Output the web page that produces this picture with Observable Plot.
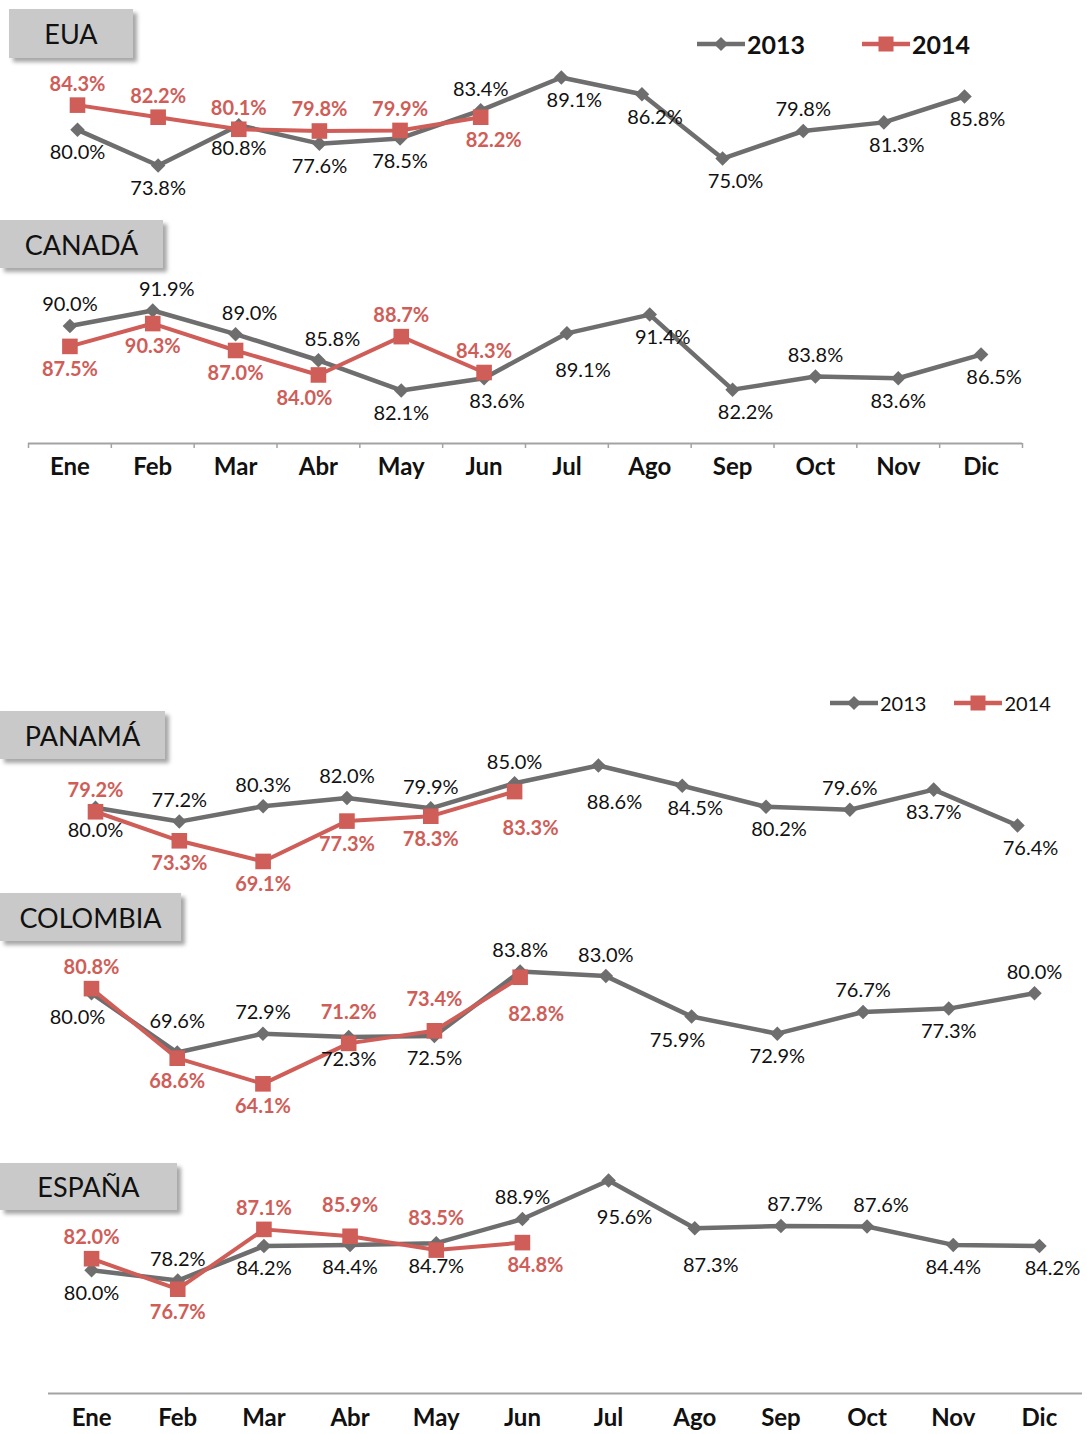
<!DOCTYPE html>
<html>
<head>
<meta charset="utf-8">
<script src="https://cdn.jsdelivr.net/npm/d3@7"></script>
<script src="https://cdn.jsdelivr.net/npm/@observablehq/plot@0.6"></script>
<style>
  html, body { margin: 0; padding: 0; background: #ffffff; }
  #root { position: relative; width: 1087px; height: 1434px; overflow: hidden; font-family: Lato, "Open Sans", sans-serif; }
  .panel { position: absolute; left: 0; }
  .panel svg { overflow: visible; }
  .tag { position: absolute; background: #c9c9c9; box-shadow: 4px 4px 4px rgba(0,0,0,0.35);
         display: flex; align-items: center; justify-content: center; font-size: 27px; color: #111; z-index: 5; }
  .legend { position: absolute; display: flex; align-items: center; color: #111; z-index: 5; }
  .legend .item { display: flex; align-items: center; }
  .legend svg { display: block; }
</style>
</head>
<body>
<div id="root"></div>
<script>
// ---------- data ----------
const months = ["Ene","Feb","Mar","Abr","May","Jun","Jul","Ago","Sep","Oct","Nov","Dic"];
const seriesNames = ["2013", "2014"];

const eua2013 = [80.0, 73.8, 80.8, 77.6, 78.5, 83.4, 89.1, 86.2, 75.0, 79.8, 81.3, 85.8];
const eua2014 = [84.3, 82.2, 80.1, 79.8, 79.9, 82.2];

const canada2013 = [90.0, 91.9, 89.0, 85.8, 82.1, 83.6, 89.1, 91.4, 82.2, 83.8, 83.6, 86.5];
const canada2014 = [87.5, 90.3, 87.0, 84.0, 88.7, 84.3];

const panama2013 = [80.0, 77.2, 80.3, 82.0, 79.9, 85.0, 88.6, 84.5, 80.2, 79.6, 83.7, 76.4];
const panama2014 = [79.2, 73.3, 69.1, 77.3, 78.3, 83.3];

const colombia2013 = [80.0, 69.6, 72.9, 72.3, 72.5, 83.8, 83.0, 75.9, 72.9, 76.7, 77.3, 80.0];
const colombia2014 = [80.8, 68.6, 64.1, 71.2, 73.4, 82.8];

const espana2013 = [80.0, 78.2, 84.2, 84.4, 84.7, 88.9, 95.6, 87.3, 87.7, 87.6, 84.4, 84.2];
const espana2014 = [82.0, 76.7, 87.1, 85.9, 83.5, 84.8];

// ---------- label placement (styling) ----------
const offsets = {
  a: [0, -21], ar: [14, -21], aa: [0, -31],
  b: [0, 23], br: [13, 23], bl: [-14, 24], bbr: [16, 37]
};
const place = {
  eua13: ["b","b","b","b","b","a","br","br","br","a","br","br"],
  eua14: ["a","a","a","a","a","br"],
  can13: ["a","ar","ar","ar","b","br","bbr","br","br","a","b","br"],
  can14: ["b","b","b","bl","a","a"],
  pan13: ["b","a","a","a","a","a","bbr","br","br","a","b","br"],
  pan14: ["a","b","b","b","b","bbr"],
  col13: ["bl","aa","a","b","b","a","a","bl","b","a","b","a"],
  col14: ["a","b","b","aa","aa","bbr"],
  esp13: ["b","a","b","b","b","a","bbr","bbr","ar","ar","b","br"],
  esp14: ["a","b","a","aa","aa","br"]
};

const GRAY = "#6e6e6e";
const RED = "#cf5d58";
const FONT = "Lato, 'Open Sans', sans-serif";
const W = 1087;

function labelMarks(data, color, bold) {
  return Object.entries(offsets).map(([code, [dx, dy]]) =>
    Plot.text(data.filter(d => d.pos === code), {
      x: "i", y: "v", text: d => d.v.toFixed(1) + "%",
      dx, dy, fill: color, fontSize: 20, fontWeight: bold ? "bold" : "normal",
      fontFamily: FONT
    })
  );
}

function panel(cfg) {
  const d13 = cfg.s13.map((v, i) => ({i, v, pos: cfg.p13[i]}));
  const d14 = cfg.s14.map((v, i) => ({i, v, pos: cfg.p14[i]}));
  const marks = [];
  if (cfg.axis) {
    marks.push(Plot.ruleY([cfg.yDomain[0]], {stroke: "#a3a3a3", strokeWidth: 2}));
    if (cfg.axis.ticks) {
      marks.push(Plot.axisX({ticks: d3.range(-0.5, 12, 1), tickSize: 5, tickFormat: () => "",
        stroke: "#a3a3a3", strokeWidth: 1.5, label: null}));
    }
    marks.push(Plot.axisX({ticks: d3.range(12), tickSize: 0, tickPadding: cfg.axis.pad,
      tickFormat: i => months[i], fontSize: 24, fontWeight: "bold", fill: "#111", fontFamily: FONT, label: null}));
  }
  marks.push(
    Plot.line(d13, {x: "i", y: "v", stroke: GRAY, strokeWidth: 4.5}),
    Plot.dot(d13, {x: "i", y: "v", symbol: "square", rotate: 45, r: 5.8, fill: GRAY}),
    Plot.line(d14, {x: "i", y: "v", stroke: RED, strokeWidth: 4}),
    Plot.dot(d14, {x: "i", y: "v", symbol: "square", r: 8.8, fill: RED}),
    ...labelMarks(d13, "#111", false),
    ...labelMarks(d14, RED, true)
  );
  const chart = Plot.plot({
    width: W, height: cfg.height,
    marginLeft: cfg.ml, marginRight: cfg.mr, marginTop: cfg.mt, marginBottom: cfg.mb,
    x: {type: "linear", domain: cfg.xDomain, axis: null, label: null},
    y: {type: "linear", domain: cfg.yDomain, axis: null, label: null},
    style: {fontFamily: FONT, background: "transparent", overflow: "visible"},
    marks
  });
  const div = document.createElement("div");
  div.className = "panel";
  div.style.top = cfg.top + "px";
  div.appendChild(chart);
  document.getElementById("root").appendChild(div);
}

// EUA
panel({top: 0, height: 200, ml: 77, mr: W - 964, mt: 43.1, mb: 200 - 186.85,
  xDomain: [0, 11], yDomain: [70, 95], s13: eua2013, s14: eua2014, p13: place.eua13, p14: place.eua14});
// Canadá (with top month axis)
panel({top: 200, height: 290, ml: 28, mr: W - 1022, mt: 84.7, mb: 290 - 243,
  xDomain: [-0.5, 11.5], yDomain: [75.6, 95], s13: canada2013, s14: canada2014,
  p13: place.can13, p14: place.can14, axis: {ticks: true, pad: 14}});
// Panamá
panel({top: 740, height: 170, ml: 95, mr: W - 1017, mt: 8.3, mb: 170 - 141.1,
  xDomain: [0, 11], yDomain: [65, 92], s13: panama2013, s14: panama2014, p13: place.pan13, p14: place.pan14});
// Colombia
panel({top: 900, height: 240, ml: 91, mr: W - 1034, mt: 58.5, mb: 240 - 206.7,
  xDomain: [0, 11], yDomain: [60, 86], s13: colombia2013, s14: colombia2014, p13: place.col13, p14: place.col14});
// España (with bottom month axis)
panel({top: 1150, height: 284, ml: 48, mr: W - 1082, mt: 4.7, mb: 284 - 243,
  xDomain: [-0.5, 11.5], yDomain: [58.56, 100], s13: espana2013, s14: espana2014,
  p13: place.esp13, p14: place.esp14, axis: {ticks: false, pad: 15}});

// ---------- country tags ----------
const tags = [
  {name: "EUA", left: 9, top: 9, w: 124, h: 49},
  {name: "CANADÁ", left: 0, top: 220, w: 163, h: 48},
  {name: "PANAMÁ", left: 0, top: 711, w: 165, h: 48},
  {name: "COLOMBIA", left: 0, top: 893, w: 181, h: 48},
  {name: "ESPAÑA", left: 0, top: 1163, w: 177, h: 47}
];
tags.forEach(t => {
  const el = document.createElement("div");
  el.className = "tag";
  Object.assign(el.style, {left: t.left + "px", top: t.top + "px", width: t.w + "px", height: t.h + "px"});
  el.textContent = t.name;
  document.getElementById("root").appendChild(el);
});

// ---------- legends ----------
function swatch(color, isSquare) {
  const ns = "http://www.w3.org/2000/svg";
  const svg = document.createElementNS(ns, "svg");
  svg.setAttribute("width", 48); svg.setAttribute("height", 20);
  const line = document.createElementNS(ns, "line");
  line.setAttribute("x1", 0); line.setAttribute("x2", 48); line.setAttribute("y1", 10); line.setAttribute("y2", 10);
  line.setAttribute("stroke", color); line.setAttribute("stroke-width", 4.5);
  svg.appendChild(line);
  const m = document.createElementNS(ns, "rect");
  const s = isSquare ? 15 : 10;
  m.setAttribute("x", 24 - s / 2); m.setAttribute("y", 10 - s / 2);
  m.setAttribute("width", s); m.setAttribute("height", s); m.setAttribute("fill", color);
  if (!isSquare) m.setAttribute("transform", "rotate(45 24 10)");
  svg.appendChild(m);
  return svg;
}
function legend(left, top, fontSize, bold, gap) {
  const el = document.createElement("div");
  el.className = "legend";
  Object.assign(el.style, {left: left + "px", top: top + "px", fontSize: fontSize + "px", fontWeight: bold ? "bold" : "normal"});
  seriesNames.forEach((name, k) => {
    const it = document.createElement("div");
    it.className = "item";
    if (k > 0) it.style.marginLeft = gap + "px";
    it.appendChild(swatch(k === 0 ? GRAY : RED, k === 1));
    const sp = document.createElement("span");
    sp.textContent = name; sp.style.marginLeft = "2px";
    it.appendChild(sp);
    el.appendChild(it);
  });
  document.getElementById("root").appendChild(el);
}
legend(697, 29, 25, true, 57);
legend(830, 691, 20, false, 28);
</script>
</body>
</html>
